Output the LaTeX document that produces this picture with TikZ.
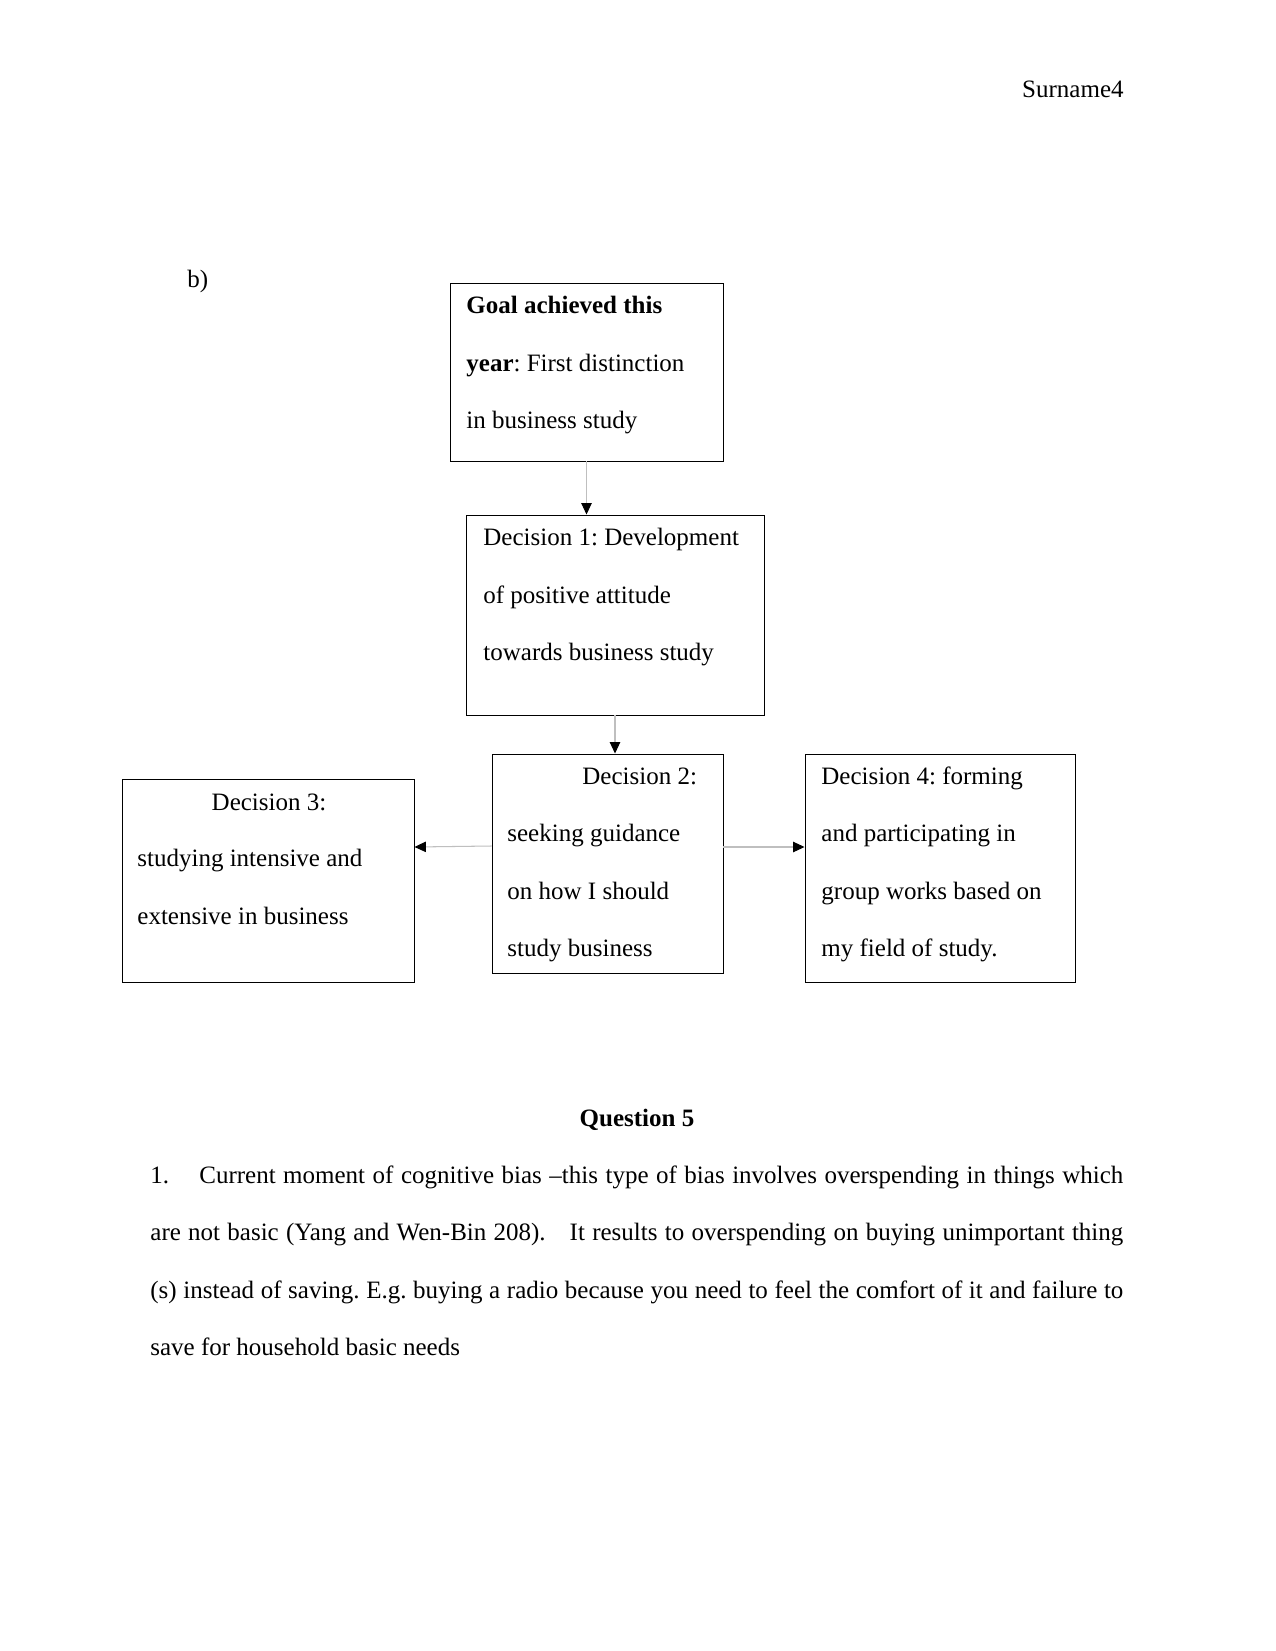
\documentclass[tikz,border=0pt]{standalone}
\usepackage{fontspec}
\setmainfont{Liberation Serif}
\usetikzlibrary{arrows.meta,fit}
\frenchspacing
\begin{document}
\begin{tikzpicture}[x=0.48pt,y=-0.48pt,
  box/.style={draw=black,line width=0.45pt,inner sep=0pt},
  txt/.style={anchor=base west,inner sep=0pt,font=\fontsize{12}{14}\selectfont},
  ctxt/.style={anchor=base,inner sep=0pt,font=\fontsize{12}{14}\selectfont},
  conn/.style={draw=black!25,line width=0.5pt,-{Triangle[width=5pt,length=5.5pt,color=black,fill=black]}}]
\useasboundingbox[fill=white] (0,0) rectangle (1275,1651);

% header
\node[anchor=base east,inner sep=0pt,font=\fontsize{12}{14}\selectfont] (hdr) at (1124,98) {Surname4};
\node[txt] (lb) at (187,287) {b)};

% boxes
\coordinate (g0) at (450,283); \coordinate (g9) at (723,461);
\coordinate (a0) at (466,515); \coordinate (a9) at (764,715);
\coordinate (b0) at (492,754); \coordinate (b9) at (723,973);
\coordinate (c0) at (122,779); \coordinate (c9) at (414,982);
\coordinate (e0) at (805,754); \coordinate (e9) at (1075,982);
\node[box,fit=(g0) (g9)] (goal) {};
\node[box,fit=(a0) (a9)] (d1) {};
\node[box,fit=(b0) (b9)] (d2) {};
\node[box,fit=(c0) (c9)] (d3) {};
\node[box,fit=(e0) (e9)] (d4) {};

% goal text
\node[txt] (g1) at (466,313) {\textbf{Goal achieved this}};
\node[txt] (g2) at (466,371) {\textbf{year}: First distinction};
\node[txt] (g3) at (466,428) {in business study};

% decision 1
\node[txt] (a1) at (483,545) {Decision 1: Development};
\node[txt] (a2) at (483,603) {of positive attitude};
\node[txt] (a3) at (483,660) {towards business study};

% decision 2
\node[txt] (b1) at (582,784) {Decision 2:};
\node[txt] (b2) at (507,841) {seeking guidance};
\node[txt] (b3) at (507,899) {on how I should};
\node[txt] (b4) at (507,956) {study business};

% decision 3
\node[ctxt] (c1) at (269,810) {Decision 3:};
\node[txt] (c2) at (137,866) {studying intensive and};
\node[txt] (c3) at (137,924) {extensive in business};

% decision 4
\node[txt] (e1) at (821,784) {Decision 4: forming};
\node[txt] (e2) at (821,841) {and participating in};
\node[txt] (e3) at (821,899) {group works based on};
\node[txt] (e4) at (821,956) {my field of study.};

% connectors
\coordinate (yl) at (0,846);
\coordinate (yr) at (0,847);
\draw[conn] (goal.south) -- (goal.south |- d1.north);
\draw[conn] (d1.south) -- (d1.south |- d2.north);
\draw[conn] (d2.west |- yl) -- (d3.east |- yr);
\draw[conn] (d2.east |- yr) -- (d4.west |- yr);

% question text
\node[ctxt,font=\fontsize{12}{14}\selectfont\bfseries] (q5) at (637,1126) {Question 5};
\node[txt] (p1) at (150,1183) {\makebox[467pt][s]{\makebox[23.5pt][l]{1.}Current moment of cognitive bias –this type of bias involves overspending in things which}};
\node[txt] (p2) at (150,1240) {\makebox[467pt][s]{are not basic (Yang and Wen-Bin 208).\hspace{8pt} It results to overspending on buying unimportant thing}};
\node[txt] (p3) at (150,1298) {\makebox[467pt][s]{(s) instead of saving. E.g. buying a radio because you need to feel the comfort of it and failure to}};
\node[txt] (p4) at (150,1355) {save for household basic needs};
\end{tikzpicture}
\end{document}
